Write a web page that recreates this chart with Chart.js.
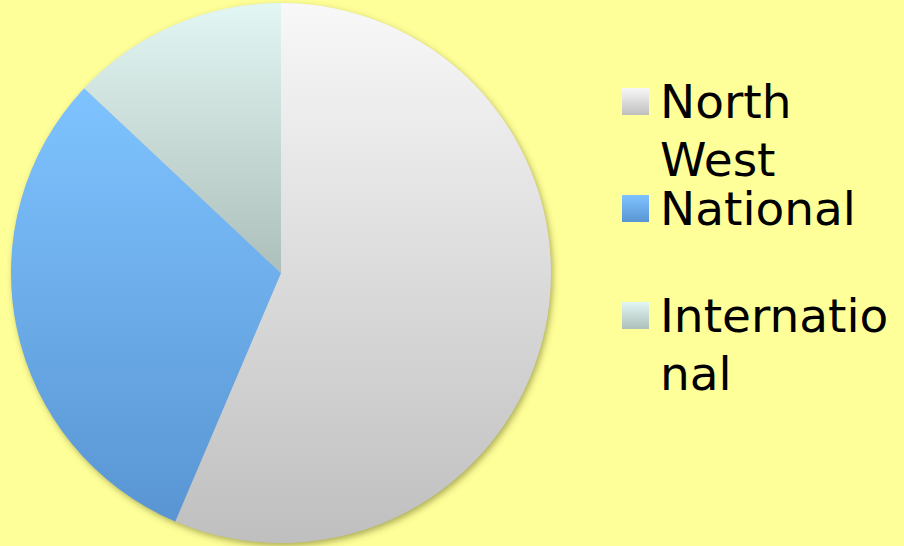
<!DOCTYPE html>
<html lang="en">
  <head>
    <meta charset="UTF-8" />
    <title>Pie chart</title>
    <script src="https://cdn.jsdelivr.net/npm/chart.js"></script>
    <style>
      body {
        margin: 0;
        width: 904px;
        height: 546px;
        overflow: hidden;
        background: #ffff99;
        font-family: "DejaVu Sans", Verdana, sans-serif;
        position: relative;
      }
      .chart-box {
        position: absolute;
        left: 0;
        top: 0;
        width: 562px;
        height: 546px;
      }
      .legend {
        position: absolute;
        left: 622px;
        top: 73px;
        margin: 0;
        padding: 0;
        list-style: none;
      }
      .legend li {
        display: flex;
        align-items: flex-start;
        height: 107px;
      }
      .legend .swatch {
        flex: none;
        width: 27px;
        height: 27px;
        margin-top: 15px;
      }
      .legend .label {
        width: 236px;
        margin-left: 11px;
        font-size: 47px;
        line-height: 58px;
        color: #000;
        overflow-wrap: anywhere;
      }
    </style>
  </head>
  <body>
    <div class="chart-box">
      <canvas id="pie"></canvas>
    </div>
    <ul class="legend" id="legend"></ul>

    <script>
      const categories = ["North West", "National", "International"];
      const shares = [56.4, 30.6, 13];
      // top / bottom colour of each slice gradient
      const topColors = ["#f8f8f8", "#7ec3ff", "#e2f6f3"];
      const bottomColors = ["#bfbfbf", "#5995d3", "#adbfba"];

      // gradient over the vertical extent of the slice itself
      function sliceGradient(context) {
        const chart = context.chart;
        const area = chart.chartArea;
        const i = context.dataIndex;
        if (!area) return topColors[i];
        const cx = (area.left + area.right) / 2;
        const cy = (area.top + area.bottom) / 2;
        const r = Math.min(area.right - area.left, area.bottom - area.top) / 2;
        const total = shares.reduce((s, v) => s + v, 0);
        const before = shares.slice(0, i).reduce((s, v) => s + v, 0);
        const a0 = -Math.PI / 2 + (before / total) * Math.PI * 2;
        const a1 = a0 + (shares[i] / total) * Math.PI * 2;
        let minY = cy;
        let maxY = cy;
        for (let k = 0; k <= 90; k++) {
          const a = a0 + ((a1 - a0) * k) / 90;
          const py = cy + Math.sin(a) * r;
          minY = Math.min(minY, py);
          maxY = Math.max(maxY, py);
        }
        const g = chart.ctx.createLinearGradient(0, minY, 0, maxY);
        g.addColorStop(0, topColors[i]);
        g.addColorStop(1, bottomColors[i]);
        return g;
      }

      // soft shadow under the whole pie
      const pieShadow = {
        id: "pieShadow",
        beforeDatasetsDraw(chart) {
          const arc = chart.getDatasetMeta(0).data[0];
          if (!arc) return;
          const c = chart.ctx;
          c.save();
          c.shadowColor = "rgba(60, 60, 0, 0.45)";
          c.shadowBlur = 7;
          c.shadowOffsetX = 2;
          c.shadowOffsetY = 3;
          c.fillStyle = "#c8c8c8";
          c.beginPath();
          c.arc(arc.x, arc.y, arc.outerRadius - 0.5, 0, Math.PI * 2);
          c.fill();
          c.restore();
        },
      };

      new Chart(document.getElementById("pie"), {
        type: "pie",
        data: {
          labels: categories,
          datasets: [
            {
              data: shares,
              backgroundColor: sliceGradient,
              borderWidth: 0,
            },
          ],
        },
        options: {
          responsive: true,
          maintainAspectRatio: false,
          animation: false,
          layout: { padding: 3 },
          plugins: {
            legend: { display: false },
            tooltip: { enabled: false },
          },
        },
        plugins: [pieShadow],
      });

      // legend as html text, so the long labels can wrap
      const legend = document.getElementById("legend");
      categories.forEach((name, i) => {
        const li = document.createElement("li");
        const sw = document.createElement("span");
        sw.className = "swatch";
        sw.style.background =
          "linear-gradient(" + topColors[i] + ", " + bottomColors[i] + ")";
        const lab = document.createElement("span");
        lab.className = "label";
        lab.textContent = name;
        li.appendChild(sw);
        li.appendChild(lab);
        legend.appendChild(li);
      });
    </script>
  </body>
</html>
